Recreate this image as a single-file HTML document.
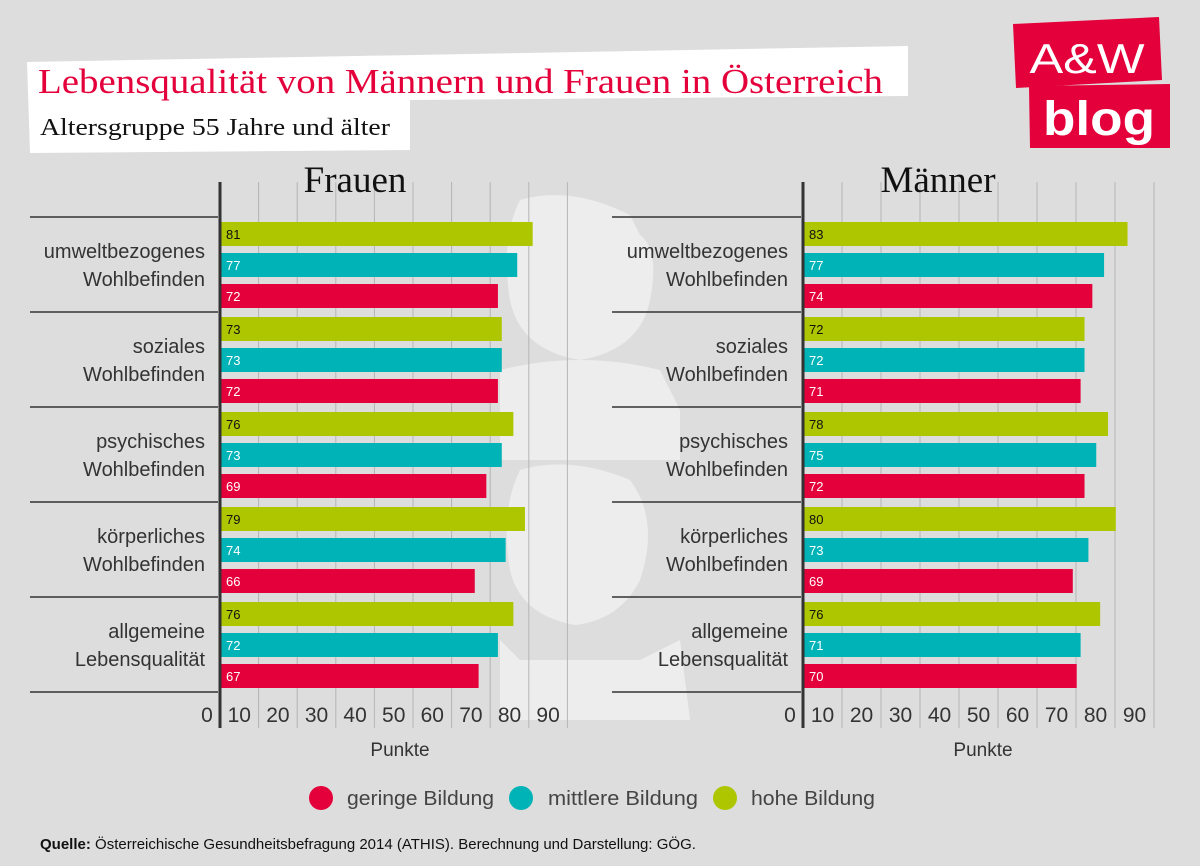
<!DOCTYPE html>
<html><head><meta charset="utf-8">
<style>
html,body{margin:0;padding:0;background:#dddddd;}
body{width:1200px;height:861px;overflow:hidden;font-family:"Liberation Sans",sans-serif;}
</style></head>
<body>
<svg id="chart" width="1200" height="861" viewBox="0 0 1200 861" xmlns="http://www.w3.org/2000/svg">
<rect x="0" y="0" width="1200" height="861" fill="#dddddd"/>
<g fill="#ededed">
  <path d="M520 200 Q570 185 630 215 L640 235 Q660 250 650 300 Q640 350 580 360 Q520 350 510 300 Q500 240 520 200 Z"/>
  <path d="M500 370 Q580 350 660 370 L680 410 L680 460 L500 460 Z"/>
  <path d="M520 470 Q570 455 630 480 Q660 520 640 580 Q620 620 575 625 Q520 615 510 570 Q500 510 520 470 Z"/>
  <path d="M500 640 L520 660 L640 660 L680 640 L690 720 L500 720 Z"/>
</g>
<g>
  <polygon points="27,62 908,46 908,96 410,100 410,150 30,153" fill="#ffffff"/>
  <text x="38" y="93" font-family="Liberation Serif, serif" font-size="35" fill="#e4003a" textLength="845" lengthAdjust="spacingAndGlyphs">Lebensqualität von Männern und Frauen in Österreich</text>
  <text x="40" y="135" font-family="Liberation Serif, serif" font-size="24" fill="#111" textLength="350" lengthAdjust="spacingAndGlyphs">Altersgruppe 55 Jahre und älter</text>
</g>
<g>
  <polygon points="1013,24 1159,17 1162,80 1016,88" fill="#e4003a"/>
  <polygon points="1029,86 1170,84 1170,148 1030,148" fill="#e4003a"/>
  <text x="1087" y="73" text-anchor="middle" font-size="42" fill="#fff" textLength="115" lengthAdjust="spacingAndGlyphs">A&amp;W</text>
  <text x="1099" y="135" text-anchor="middle" font-size="48" font-weight="bold" fill="#fff" textLength="112" lengthAdjust="spacingAndGlyphs">blog</text>
</g>
<g id="panels"></g>
<g>
  <circle cx="321" cy="798" r="12" fill="#e4003a"/>
  <text x="347" y="805" font-size="20" fill="#444" textLength="147" lengthAdjust="spacingAndGlyphs">geringe Bildung</text>
  <circle cx="521" cy="798" r="12" fill="#00b3b7"/>
  <text x="548" y="805" font-size="20" fill="#444" textLength="150" lengthAdjust="spacingAndGlyphs">mittlere Bildung</text>
  <circle cx="725" cy="798" r="12" fill="#aec600"/>
  <text x="751" y="805" font-size="20" fill="#444" textLength="124" lengthAdjust="spacingAndGlyphs">hohe Bildung</text>
</g>
<text x="40" y="849" font-size="15" fill="#111"><tspan font-weight="bold">Quelle:</tspan> Österreichische Gesundheitsbefragung 2014 (ATHIS).  Berechnung und Darstellung: GÖG.</text>
</svg>
<script>
const categories = [["umweltbezogenes","Wohlbefinden"],["soziales","Wohlbefinden"],["psychisches","Wohlbefinden"],["körperliches","Wohlbefinden"],["allgemeine","Lebensqualität"]];
const seriesNames = ["hohe Bildung","mittlere Bildung","geringe Bildung"];
const frauenHoch = [81,73,76,79,76];
const frauenMittel = [77,73,73,74,72];
const frauenGering = [72,72,69,66,67];
const maennerHoch = [83,72,78,80,76];
const maennerMittel = [77,72,75,73,71];
const maennerGering = [74,71,72,69,70];
const tickValues = [0,10,20,30,40,50,60,70,80,90];
const NS = "http://www.w3.org/2000/svg";
const colors = ["#aec600","#00b3b7","#e4003a"];
const textColors = ["#111","#fff","#fff"];
const root = document.getElementById('panels');
function mk(tag, attrs, parent){const e=document.createElementNS(NS,tag);for(const k in attrs)e.setAttribute(k,attrs[k]);parent.appendChild(e);return e;}
function panel(title, x0, scale, gridStep, labelRight, dividerX1, series, pname){
  const g = mk('g',{},root);
  
  
  const xs = v => x0 + v*scale;
  for(let k=1;k<=9;k++){
    const gl = mk('line',{x1:x0+k*gridStep,x2:x0+k*gridStep,y1:182,y2:728,stroke:'#b5b5b5','stroke-width':1},g);
    
    
  }
  const t = mk('text',{x:x0+135,y:192,'text-anchor':'middle','font-family':'Liberation Serif, serif','font-size':37,fill:'#111'},g);
  t.textContent = title;
  
  
  for(let i=0;i<=categories.length;i++){
    const y = 217 + i*95;
    const d = mk('line',{x1:dividerX1,x2:x0-2,y1:y,y2:y,stroke:'#333','stroke-width':1.5},g);
    
    
  }
  categories.forEach((c,i)=>{
    const yb = 217 + i*95;
    const lab = mk('text',{x:labelRight,'text-anchor':'end','font-size':20,fill:'#333'},g);
    
    
    const t1 = mk('tspan',{x:labelRight,y:yb+41},lab); t1.textContent=c[0];
    const t2 = mk('tspan',{x:labelRight,y:yb+69},lab); t2.textContent=c[1];
    series.forEach((s,j)=>{
      const v = s[i];
      const y = yb + 5 + j*31;
      const r = mk('rect',{x:x0+1,y:y,width:xs(v)-x0-1,height:24,fill:colors[j]},g);
      
      
      const vt = mk('text',{x:x0+6,y:y+17,'font-size':13,fill:textColors[j]},g);
      vt.textContent = v;
      
      
    });
  });
  const ax = mk('line',{x1:x0,x2:x0,y1:182,y2:728,stroke:'#333','stroke-width':3},g);
  
  
  tickValues.forEach(v=>{
    const tx = v===0 ? x0-13 : x0 + (v/10 - 0.5)*gridStep;
    const tt = mk('text',{x:tx,y:722,'text-anchor':'middle','font-size':21,fill:'#333'},g);
    tt.textContent = v;
    
    
  });
  const at = mk('text',{x:x0+180,y:756,'text-anchor':'middle','font-size':19,fill:'#333'},g);
  at.textContent = 'Punkte';
  
  
}
panel('Frauen', 220, 3.86, 38.6, 205, 30, [frauenHoch,frauenMittel,frauenGering], 'frauen');
panel('Männer', 803, 3.91, 39, 788, 612, [maennerHoch,maennerMittel,maennerGering], 'maenner');
</script>
</body></html>
